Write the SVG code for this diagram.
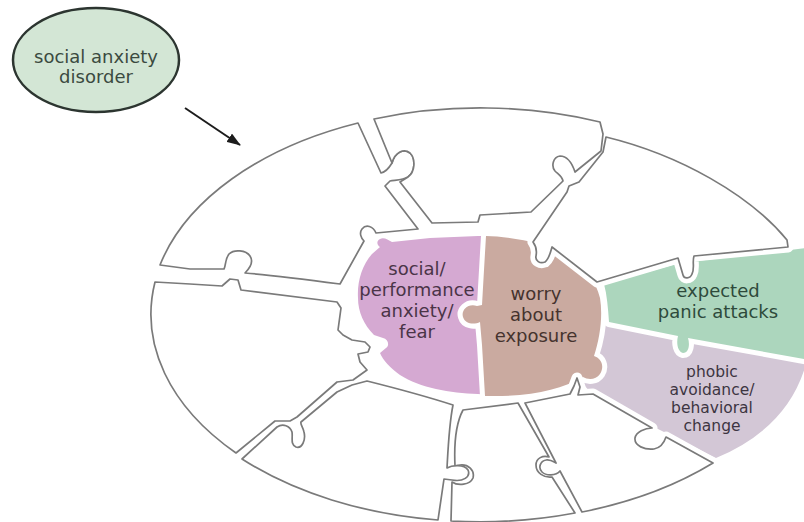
<svg xmlns="http://www.w3.org/2000/svg" xmlns:xlink="http://www.w3.org/1999/xlink" width="804" height="522" viewBox="0 0 804 522">
<style>
  .col { stroke:#ffffff; stroke-width:10; stroke-linejoin:round; paint-order:stroke; }
  .halo { fill:#ffffff; stroke:#ffffff; stroke-width:11; stroke-linejoin:round; }
  .piece { fill:#ffffff; stroke:#7a7a7a; stroke-width:1.7; stroke-linejoin:round; }
  text { font-family:"DejaVu Sans","Liberation Sans",sans-serif; font-size:18px; text-anchor:middle; }
  .sm { font-size:15.5px; }
</style>
<defs>
  <marker id="arrowhead" markerWidth="14" markerHeight="10" refX="13" refY="5" orient="auto" markerUnits="userSpaceOnUse">
    <path d="M0,0 L14,5 L0,10 Z" fill="#1c1c1c"/>
  </marker>
  <path id="s-p1" d="M 160,265 A 330 207 0 0 1 358,123 L 381,173 C 386,172 389,168 392,163 C 395,152 404,148 410,153 C 416,159 415,172 408,177 C 403,180 396,180 390,181 L 385,186 L 418,229 L 376,233 C 373,226 366,224 362,229 C 359,233 361,238 364,241 L 340,284 C 310,280 270,275 245,273 C 250,268 254,262 250,256 C 246,250 234,249 229,254 C 225,259 226,265 224,269 L 190,269 Z"/>
  <path id="s-p2" d="M 374,119 A 330 207 0 0 1 600,122 L 603,134 L 601,151 L 575,172 C 572,163 567,156 560,156 C 553,157 551,166 555,171 C 558,174 562,176 563,181 L 531,212 L 480,215 L 478,222 L 432,223 L 400,182 L 408,177 C 415,172 416,159 410,153 C 404,148 395,152 392,163 Z"/>
  <path id="s-p3" d="M 606,137 C 680,155 750,195 787,240 L 788,247 L 694,256 C 692,262 695,268 692,274 C 690,279 684,279 683,275 L 678,258 L 597,282 L 552,247 C 550,254 549,259 545,262 C 540,264 535,261 536,256 C 537,251 536,246 533,242 L 567,192 L 569,186 L 579,182 L 603,152 L 605,142 Z"/>
  <path id="s-p4" d="M 525,403 L 570,394 L 574,386 L 577,378 L 580,387 L 578,395 L 593,394 L 652,428 C 645,428 636,432 635,438 C 634,446 645,450 654,449 C 660,448 664,443 666,437 L 713,463 A 330 207 0 0 1 582,512 L 560,471 C 556,476 546,476 542,472 C 538,468 540,461 546,460 C 550,459 554,462 556,463 Z"/>
  <path id="s-p5" d="M 463,410 L 518,403 L 549,457 C 543,455 536,458 536,465 C 536,473 544,478 552,477 L 575,513 A 330 207 0 0 1 451,521 L 452,482 C 458,486 470,485 473,478 C 475,470 468,464 460,465 L 455,466 C 454,445 455,425 463,410 Z"/>
  <path id="s-p6" d="M 367,381 C 395,388 425,396 453,405 C 449,425 448,450 447,468 C 452,465 464,464 468,470 C 471,477 463,482 452,480 L 444,479 L 438,520 A 330 207 0 0 1 242,459 L 277,427 C 283,423 290,426 292,432 C 293,438 290,444 296,447 C 302,449 306,440 304,432 C 303,427 300,424 301,422 L 337,392 L 352,385 Z"/>
  <path id="s-p7" d="M 155,282 L 190,284 L 222,286 L 230,279 L 238,280 L 241,290 L 337,302 L 341,308 L 338,330 L 343,335 L 352,340 L 365,342 L 370,347 L 368,352 L 358,354 L 360,362 L 367,370 L 353,380 L 337,382 L 297,417 L 290,421 L 275,421 L 236,453 A 330 207 0 0 1 155,282 Z"/>
</defs>

<!-- coloured pieces -->
<g id="phobic-avoidance">
  <path class="col" fill="#d3c7d6" d="M 600,318 L 815,350 L 815,366 L 806,364 Q 788,428 716,458 L 650,425 L 590,392 L 580,380 L 588,340 Z"/>
</g>
<g id="expected-panic-attacks">
  <path class="col" fill="#acd6bd" d="M 604,284 L 680,263 L 790,250 L 815,247 L 815,362 L 804,359 L 688,338 C 690,344 689,353 683,353 C 678,352 676,344 678,336 L 609,322 C 608,308 607,295 604,284 Z"/>
</g>
<g id="social-performance-anxiety">
  <path class="col" fill="#d5a9d2" d="M 380,247 C 377,245 376,241 380,239 C 384,237 388,240 392,242 L 430,238 L 478,236 L 500,236 L 500,396 L 478,394 C 450,393 420,388 400,375 C 390,368 383,360 380,353 L 386,348 C 390,345 388,339 383,338 L 374,335 C 364,325 358,312 358,298 C 357,282 362,265 372,254 Z"/>
</g>
<g id="worry-about-exposure">
  <path class="col" fill="#caaaa0" d="M 486,236 C 500,236 520,239 540,244 L 560,246 C 580,258 595,278 600,298 C 603,316 600,338 594,356 C 601,358 605,366 600,374 C 596,380 588,380 583,377 C 560,390 530,397 485,396 L 482,345 L 480,322 C 474,325 465,324 463,317 C 461,311 467,303 477,306 L 482,305 L 484,270 Z"/>
</g>

<!-- white gaps round the blank pieces -->
<g id="gaps">
  <use xlink:href="#s-p1" class="halo"/>
  <use xlink:href="#s-p2" class="halo"/>
  <use xlink:href="#s-p3" class="halo"/>
  <use xlink:href="#s-p4" class="halo"/>
  <use xlink:href="#s-p5" class="halo"/>
  <use xlink:href="#s-p6" class="halo"/>
  <use xlink:href="#s-p7" class="halo"/>
</g>

<!-- blank pieces -->
<g id="piece-top-left"><use xlink:href="#s-p1" class="piece"/></g>
<g id="piece-top"><use xlink:href="#s-p2" class="piece"/></g>
<g id="piece-top-right"><use xlink:href="#s-p3" class="piece"/></g>
<g id="piece-bottom-right"><use xlink:href="#s-p4" class="piece"/></g>
<g id="piece-bottom"><use xlink:href="#s-p5" class="piece"/></g>
<g id="piece-bottom-left"><use xlink:href="#s-p6" class="piece"/></g>
<g id="piece-left"><use xlink:href="#s-p7" class="piece"/></g>

<!-- labels of coloured pieces -->
<g id="labels">
  <g fill="#4a3447">
    <text x="417" y="275">social/</text>
    <text x="417" y="296">performance</text>
    <text x="417" y="317">anxiety/</text>
    <text x="417" y="338">fear</text>
  </g>
  <g fill="#45332e">
    <text x="536" y="300">worry</text>
    <text x="536" y="321">about</text>
    <text x="536" y="342">exposure</text>
  </g>
  <g fill="#2e4a3b">
    <text x="718" y="297">expected</text>
    <text x="718" y="318">panic attacks</text>
  </g>
  <g fill="#3d3542">
    <text class="sm" x="712" y="377">phobic</text>
    <text class="sm" x="712" y="395">avoidance/</text>
    <text class="sm" x="712" y="413">behavioral</text>
    <text class="sm" x="712" y="431">change</text>
  </g>
</g>

<!-- source node -->
<g id="social-anxiety-disorder">
  <ellipse cx="96" cy="60" rx="83" ry="52" fill="#d3e6d5" stroke="#2c3530" stroke-width="2.5"/>
  <text x="96" y="63" fill="#3b4a40">social anxiety</text>
  <text x="96" y="83" fill="#3b4a40">disorder</text>
</g>

<!-- connector -->
<g id="connectors">
  <line x1="185" y1="108" x2="240" y2="145" stroke="#1c1c1c" stroke-width="2" marker-end="url(#arrowhead)"/>
</g>
</svg>
